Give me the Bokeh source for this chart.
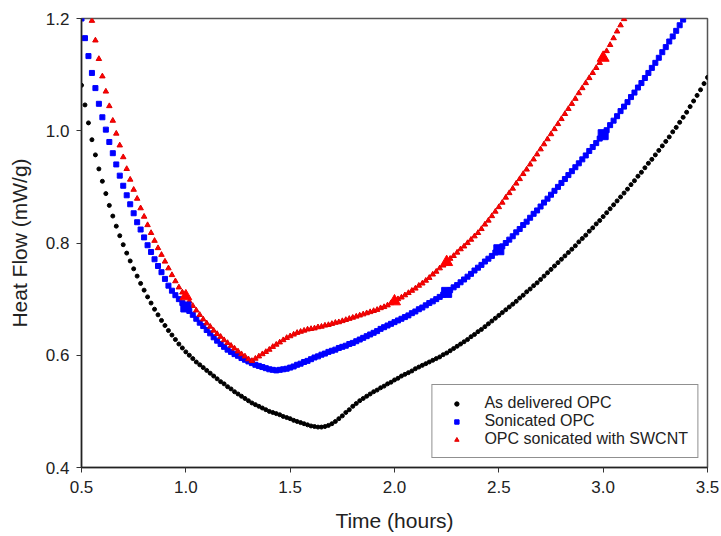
from bokeh.plotting import figure
from bokeh.models import FixedTicker, Legend, LegendItem
from bokeh.embed import file_html
from bokeh.resources import INLINE

# ---- data (heat flow, mW/g, one sample per minute) ----
black_start_min = 30
black = [
    1.081, 1.046, 1.014, 0.984, 0.957, 0.932, 0.910, 0.888, 0.867, 0.848,
    0.830, 0.813, 0.797, 0.782, 0.768, 0.754, 0.741, 0.728, 0.716, 0.704,
    0.693, 0.682, 0.672, 0.662, 0.653, 0.644, 0.636, 0.628, 0.620, 0.613,
    0.606, 0.600, 0.594, 0.588, 0.583, 0.578, 0.573, 0.568, 0.563, 0.558,
    0.553, 0.549, 0.544, 0.540, 0.535, 0.531, 0.527, 0.523, 0.519, 0.515,
    0.512, 0.509, 0.506, 0.503, 0.500, 0.498, 0.496, 0.494, 0.491, 0.489,
    0.487, 0.484, 0.482, 0.480, 0.478, 0.476, 0.474, 0.473, 0.472, 0.472,
    0.473, 0.475, 0.478, 0.482, 0.487, 0.492, 0.498, 0.503, 0.509, 0.514,
    0.519, 0.523, 0.527, 0.531, 0.535, 0.538, 0.542, 0.545, 0.549, 0.552,
    0.556, 0.559, 0.563, 0.566, 0.569, 0.572, 0.576, 0.579, 0.582, 0.585,
    0.588, 0.591, 0.594, 0.597, 0.601, 0.604, 0.608, 0.612, 0.616, 0.620,
    0.624, 0.628, 0.633, 0.637, 0.642, 0.646, 0.651, 0.656, 0.661, 0.666,
    0.671, 0.676, 0.681, 0.686, 0.691, 0.696, 0.702, 0.707, 0.713, 0.718,
    0.724, 0.729, 0.735, 0.741, 0.747, 0.753, 0.759, 0.765, 0.771, 0.777,
    0.783, 0.789, 0.795, 0.802, 0.808, 0.814, 0.821, 0.827, 0.834, 0.840,
    0.847, 0.854, 0.861, 0.868, 0.875, 0.882, 0.889, 0.896, 0.904, 0.911,
    0.919, 0.926, 0.934, 0.942, 0.949, 0.957, 0.965, 0.973, 0.981, 0.989,
    0.998, 1.006, 1.015, 1.024, 1.033, 1.043, 1.053, 1.063, 1.073, 1.084,
    1.095,
]

blue_start_min = 30
blue = [
    1.200, 1.165, 1.133, 1.103, 1.076, 1.048, 1.024, 1.002, 0.980, 0.960,
    0.940, 0.920, 0.902, 0.885, 0.869, 0.853, 0.837, 0.824, 0.810, 0.796,
    0.784, 0.771, 0.759, 0.748, 0.736, 0.724, 0.715, 0.707, 0.700, 0.693,
    0.686, 0.679, 0.672, 0.665, 0.658, 0.652, 0.645, 0.639, 0.632, 0.626,
    0.620, 0.615, 0.610, 0.606, 0.602, 0.599, 0.595, 0.592, 0.589, 0.586,
    0.583, 0.581, 0.579, 0.577, 0.575, 0.574, 0.573, 0.574, 0.575, 0.576,
    0.578, 0.580, 0.583, 0.585, 0.588, 0.590, 0.593, 0.596, 0.598, 0.601,
    0.603, 0.606, 0.608, 0.610, 0.613, 0.615, 0.617, 0.620, 0.622, 0.625,
    0.628, 0.631, 0.634, 0.637, 0.640, 0.643, 0.647, 0.650, 0.653, 0.656,
    0.659, 0.662, 0.665, 0.668, 0.671, 0.675, 0.678, 0.682, 0.685, 0.689,
    0.693, 0.696, 0.700, 0.704, 0.708, 0.712, 0.716, 0.721, 0.725, 0.730,
    0.735, 0.740, 0.745, 0.751, 0.756, 0.761, 0.767, 0.772, 0.777, 0.783,
    0.788, 0.794, 0.800, 0.806, 0.812, 0.819, 0.825, 0.832, 0.838, 0.845,
    0.852, 0.858, 0.865, 0.872, 0.879, 0.886, 0.893, 0.900, 0.907, 0.914,
    0.921, 0.928, 0.935, 0.942, 0.949, 0.956, 0.964, 0.971, 0.978, 0.986,
    0.993, 1.001, 1.010, 1.018, 1.026, 1.035, 1.043, 1.051, 1.060, 1.068,
    1.077, 1.085, 1.094, 1.103, 1.112, 1.121, 1.130, 1.140, 1.149, 1.159,
    1.168, 1.178, 1.188, 1.198,
]

red_start_min = 33
red = [
    1.196, 1.161, 1.128, 1.097, 1.070, 1.044, 1.018,
    0.995, 0.974, 0.953, 0.932, 0.913, 0.895, 0.879, 0.862, 0.847, 0.832,
    0.818, 0.804, 0.791, 0.779, 0.767, 0.755, 0.743, 0.732, 0.721, 0.712,
    0.705, 0.696, 0.688, 0.680, 0.672, 0.664, 0.657, 0.651, 0.644, 0.638,
    0.633, 0.627, 0.622, 0.617, 0.612, 0.607, 0.602, 0.598, 0.593, 0.590,
    0.594, 0.598, 0.602, 0.606, 0.610, 0.615, 0.619, 0.623, 0.627, 0.631,
    0.634, 0.637, 0.640, 0.642, 0.644, 0.646, 0.647, 0.648, 0.650, 0.651,
    0.653, 0.654, 0.656, 0.658, 0.659, 0.661, 0.663, 0.665, 0.667, 0.669,
    0.671, 0.673, 0.675, 0.677, 0.679, 0.681, 0.684, 0.686, 0.689, 0.693,
    0.696, 0.700, 0.703, 0.707, 0.711, 0.715, 0.719, 0.724, 0.728, 0.733,
    0.738, 0.744, 0.749, 0.755, 0.760, 0.766, 0.772, 0.777, 0.783, 0.789,
    0.794, 0.800, 0.806, 0.812, 0.818, 0.825, 0.833, 0.840, 0.848, 0.856,
    0.864, 0.872, 0.881, 0.889, 0.897, 0.906, 0.914, 0.923, 0.931, 0.940,
    0.949, 0.958, 0.967, 0.976, 0.985, 0.994, 1.003, 1.012, 1.021, 1.030,
    1.039, 1.048, 1.057, 1.067, 1.076, 1.085, 1.094, 1.103, 1.112, 1.121,
    1.130, 1.142, 1.153, 1.165, 1.177, 1.188, 1.199,
]

# large highlighted markers
blue_big_t = [1.0, 2.25, 2.5, 3.0]
blue_big_v = [0.686, 0.712, 0.788, 0.993]
red_big_t = [1.0, 2.0, 2.25, 3.0]
red_big_v = [0.705, 0.696, 0.766, 1.130]

series_labels = ["As delivered OPC", "Sonicated OPC", "OPC sonicated with SWCNT"]
x_ticks = [0.5, 1.0, 1.5, 2.0, 2.5, 3.0, 3.5]
x_tick_labels = ["0.5", "1.0", "1.5", "2.0", "2.5", "3.0", "3.5"]
y_ticks = [0.4, 0.6, 0.8, 1.0, 1.2]
y_tick_labels = ["0.4", "0.6", "0.8", "1.0", "1.2"]

t_black = [(black_start_min + i) / 60 for i in range(len(black))]
t_blue = [(blue_start_min + i) / 60 for i in range(len(blue))]
t_red = [(red_start_min + i) / 60 for i in range(len(red))]

FONT = "Liberation Sans"
TXT = "#222222"

p = figure(width=721, height=536, x_range=(0.5, 3.5), y_range=(0.4, 1.2),
           output_backend="svg", toolbar_location=None,
           min_border_left=81, min_border_right=14, min_border_top=18,
           min_border_bottom=69)
p.background_fill_color = "white"
p.border_fill_color = "white"
p.grid.visible = False
p.outline_line_color = "#555555"
p.outline_line_width = 1.5

r_black = p.scatter(t_black, black, marker="circle", size=4, color="black")
r_blue = p.scatter(t_blue, blue, marker="square", size=5, color="#0000ff")
r_red = p.scatter(t_red, red, marker="triangle", size=5.5,
                  fill_color="#ff0000", line_color="#e00000")
p.scatter(blue_big_t, blue_big_v, marker="square", size=10, color="#0000ff")
p.scatter(red_big_t, red_big_v, marker="triangle", size=12, color="#ff0000")

for ax, ticks, labels in ((p.xaxis, x_ticks, x_tick_labels), (p.yaxis, y_ticks, y_tick_labels)):
    ax.ticker = FixedTicker(ticks=ticks)
    ax.major_label_overrides = {t: l for t, l in zip(ticks, labels)}
    ax.minor_tick_line_color = None
    ax.major_tick_in = 0
    ax.major_tick_out = 5
    ax.major_tick_line_color = "#333333"
    ax.axis_line_color = "#222222"
    ax.axis_line_width = 1.5
    ax.major_label_text_font = FONT
    ax.major_label_text_font_size = "17px"
    ax.major_label_text_color = TXT
    ax.axis_label_text_font = FONT
    ax.axis_label_text_font_size = "21px"
    ax.axis_label_text_font_style = "normal"
    ax.axis_label_text_color = TXT

p.xaxis.axis_label = "Time (hours)"
p.yaxis.axis_label = "Heat Flow (mW/g)"
p.xaxis.major_label_standoff = 8
p.yaxis.major_label_standoff = 7
p.xaxis.axis_label_standoff = 13
p.yaxis.axis_label_standoff = 12

legend = Legend(items=[LegendItem(label=series_labels[0], renderers=[r_black]),
                       LegendItem(label=series_labels[1], renderers=[r_blue]),
                       LegendItem(label=series_labels[2], renderers=[r_red])],
                location="bottom_right", margin=9, padding=9, spacing=0,
                glyph_width=30, glyph_height=11, label_height=18,
                label_standoff=13, label_text_font=FONT,
                label_text_font_size="16px", label_text_color=TXT,
                border_line_color="#222222", border_line_width=1.2,
                background_fill_color="white", background_fill_alpha=1.0)
p.add_layout(legend)

open("out.html", "w").write(file_html(p, INLINE))
